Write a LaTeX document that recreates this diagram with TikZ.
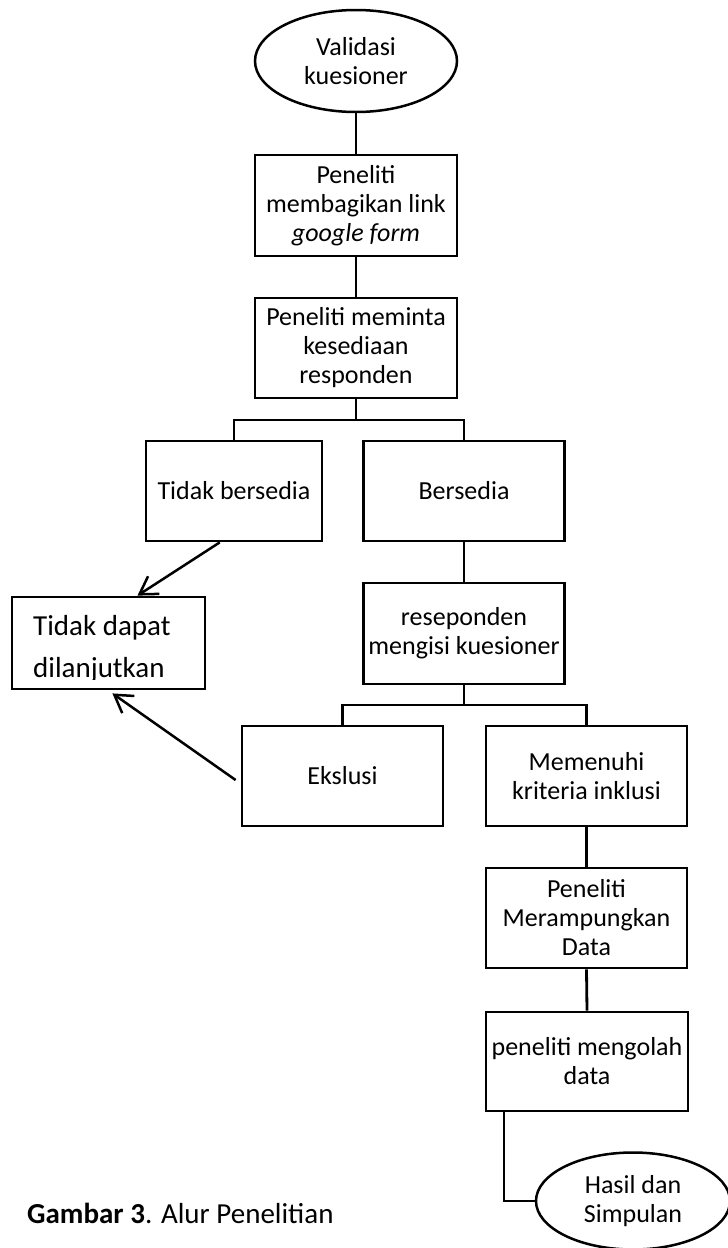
\documentclass[tikz,border=0pt]{standalone}
\usepackage{fontspec}
\setmainfont{Carlito}
\usetikzlibrary{shapes.geometric,arrows.meta,calc}
\tikzset{
  base/.style={draw, line width=2.8pt, inner sep=0pt, align=center,
    font=\fontsize{26}{29}\selectfont},
  box/.style={base, rectangle, minimum width=201pt, minimum height=100pt},
  oval/.style={base, ellipse, line width=2.5pt},
  link/.style={line width=2.8pt},
  arr/.style={line width=2.5pt, -{Straight Barb[length=17pt,width=21pt]}}
}
\begin{document}
\begin{tikzpicture}[x=1pt,y=-1pt]
\useasboundingbox (0,0) rectangle (728,1248);
% nodes
\node[oval, minimum width=202pt, minimum height=102pt] (v1) at (356,61) {Validasi\\kuesioner};
\node[box, minimum width=202pt, minimum height=101pt] (b1) at (356,205.5) {Peneliti\\membagikan link\\\textit{google form}};
\node[box, minimum width=202pt] (b2) at (356,348) {Peneliti meminta\\kesediaan\\responden};
\node[box, minimum width=176pt] (tb) at (234,491) {Tidak bersedia};
\node[box] (bs) at (464,491) {Bersedia};
\node[box, minimum height=101pt] (rs) at (464,633.5) {reseponden\\mengisi kuesioner};
\node[box, minimum width=193pt, minimum height=92pt] (td) at (108.5,643) {};
\begin{scope}
  \clip (12,597) rectangle (205,679);
  \node[anchor=base west, inner sep=0pt, align=left,
        font=\fontsize{29}{42}\selectfont] (tdt) at (33,677) {Tidak dapat\\dilanjutkan};
\end{scope}
\node[box] (ek) at (342.5,776) {Ekslusi};
\node[box] (mk) at (586.5,776) {Memenuhi\\kriteria inklusi};
\node[box] (pm) at (586.5,918) {Peneliti\\Merampungkan\\Data};
\node[box, minimum width=202pt, minimum height=99pt] (po) at (587,1061.5) {peneliti mengolah\\data};
\node[oval, minimum width=194pt, minimum height=97pt] (hs) at (633,1201) {Hasil dan\\Simpulan};
\node[anchor=base west, inner sep=0pt, font=\fontsize{29}{33}\selectfont] (cap) at (27,1223) {\textbf{Gambar 3}. Alur Penelitian};
% connectors
\coordinate (j1) at (356,420);
\coordinate (j2) at (464,705);
\draw[link] (v1.south) -- (b1.north);
\draw[link] (b1.south) -- (b2.north);
\draw[link] (b2.south) -- (j1);
\draw[link] (tb.north) |- (j1) -| (bs.north);
\draw[link] (bs.south) -- (rs.north);
\draw[link] (rs.south) -- (j2);
\draw[link] (ek.north) |- (j2) -| (mk.north);
\draw[link] (mk.south) -- (pm.north);
\draw[link] (pm.south) -- (po.north);
\coordinate (p1) at ($(po.south west)!0.095!(po.south east)$);
\draw[link] (p1) |- (hs.west);
\coordinate (a1s) at ($(tb.south west)!0.42!(tb.south east)$);
\coordinate (a1e) at ($(td.north west)!0.648!(td.north east)$);
\draw[arr] (a1s) -- (a1e);
\coordinate (a2s) at ($(ek.west)+(-5,4)$);
\coordinate (a2e) at ($(td.south west)!0.52!(td.south east)+(0,3)$);
\draw[arr] (a2s) -- (a2e);
\end{tikzpicture}
\end{document}
